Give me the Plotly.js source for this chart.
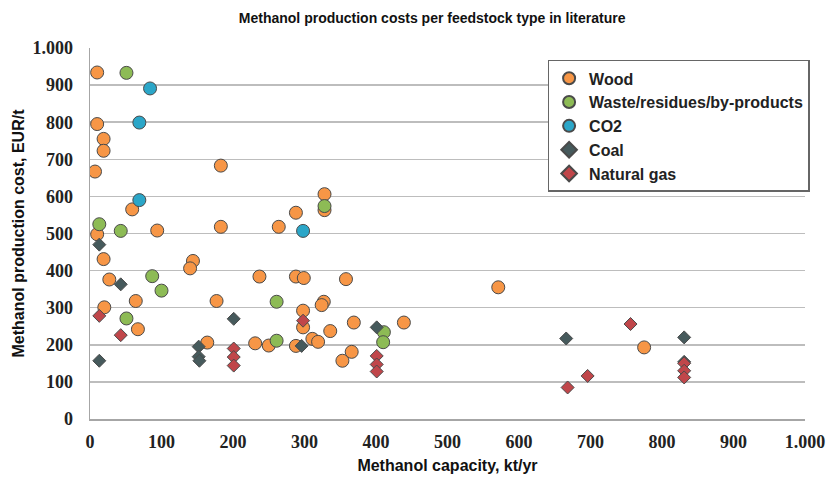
<!DOCTYPE html>
<html>
<head>
<meta charset="utf-8">
<script src="https://cdn.plot.ly/plotly-3.0.1.min.js"></script>
<style>html,body{margin:0;padding:0;background:#fff;}#chart{width:831px;height:481px;}</style>
</head>
<body>
<div id="chart"></div>
<script>
// Data (x: kt/yr, y: EUR/t)
const woodX = [10,10,19,19,7,183,59,10,94,183,19,144,140,27,64,177,20,67,164,328,328,288,264,237,288,299,358,327,324,298,298,369,439,336,311,319,231,250,288,366,353,571,775];
const woodY = [934,795,755,723,667,683,565,498,508,518,431,426,406,376,318,318,301,242,206,606,563,556,518,384,384,380,377,316,307,292,247,260,260,237,216,208,204,198,197,181,157,355,193];
const wasteX = [51,13,43,87,100,51,261,261,328,411,410];
const wasteY = [933,525,507,385,346,271,316,211,574,234,207];
const co2X = [84,69,69,298];
const co2Y = [891,799,590,507];
const coalX = [13,43,13,201,152,152,153,296,401,666,831,831];
const coalY = [470,363,157,270,195,168,157,197,247,217,220,154];
const gasX = [13,43,201,201,201,298,401,401,401,756,668,696,831,831,831];
const gasY = [278,226,190,167,144,265,170,147,128,256,85,116,150,130,112];
const tickVals = [0,100,200,300,400,500,600,700,800,900,1000];
const tickText = ['0','100','200','300','400','500','600','700','800','900','1.000'];

const SANS = '"Liberation Sans", Arial, sans-serif';
const SERIF = '"Liberation Serif", "Times New Roman", serif';
const outline = {color:'#4a4a4a', width:1};
function trace(name, x, y, color, symbol, size){
  return {type:'scatter', mode:'markers', name:name, x:x, y:y,
    marker:{color:color, symbol:symbol, size:size, line:outline}};
}
const data = [
  trace('Wood', woodX, woodY, '#F79646', 'circle', 13),
  trace('Waste/residues/by-products', wasteX, wasteY, '#8DBB55', 'circle', 13),
  trace('CO2', co2X, co2Y, '#2BA6C8', 'circle', 13),
  trace('Coal', coalX, coalY, '#465A5C', 'diamond', 10),
  trace('Natural gas', gasX, gasY, '#C0464A', 'diamond', 10)
];
const layout = {
  width:831, height:481,
  margin:{l:90, r:26, t:48, b:62},
  paper_bgcolor:'#fff', plot_bgcolor:'#fff',
  font:{family:SANS, color:'#000'},
  showlegend:true,
  title:{text:'<b>Methanol production costs per feedstock type in literature</b>',
    font:{family:SANS, size:14, color:'#111'}, x:0.52, xref:'container', xanchor:'center', y:0.962, yref:'container', yanchor:'middle'},
  xaxis:{range:[0,1000], tickvals:tickVals, ticktext:tickText, showgrid:false, zeroline:false,
    showline:true, linecolor:'#a6a6a6', linewidth:1.5, ticks:'', ticklen:0, ticklabelstandoff:6,
    tickfont:{family:SERIF, size:18, color:'#222', weight:'bold'},
    title:{text:'<b>Methanol capacity, kt/yr</b>', font:{family:SANS, size:16, color:'#111'}, standoff:8}},
  yaxis:{range:[0,1000], tickvals:tickVals, ticktext:tickText, showgrid:true, gridcolor:'#bdbdbd', gridwidth:1.5,
    zeroline:false, showline:true, linecolor:'#a6a6a6', linewidth:1.5, ticks:'', ticklabelstandoff:12,
    tickfont:{family:SERIF, size:18, color:'#222', weight:'bold'},
    title:{text:'<b>Methanol production cost, EUR/t</b>', font:{family:SANS, size:16, color:'#111'}, standoff:4}},
  legend:{x:0.64, y:0.968, xanchor:'left', yanchor:'top', bgcolor:'#fff', bordercolor:'#666', borderwidth:1.5,
    font:{family:SANS, size:16, color:'#222', weight:'bold'}, itemsizing:'constant', tracegroupgap:0}
};
Plotly.newPlot('chart', data, layout, {displayModeBar:false, staticPlot:true});
</script>
</body>
</html>
